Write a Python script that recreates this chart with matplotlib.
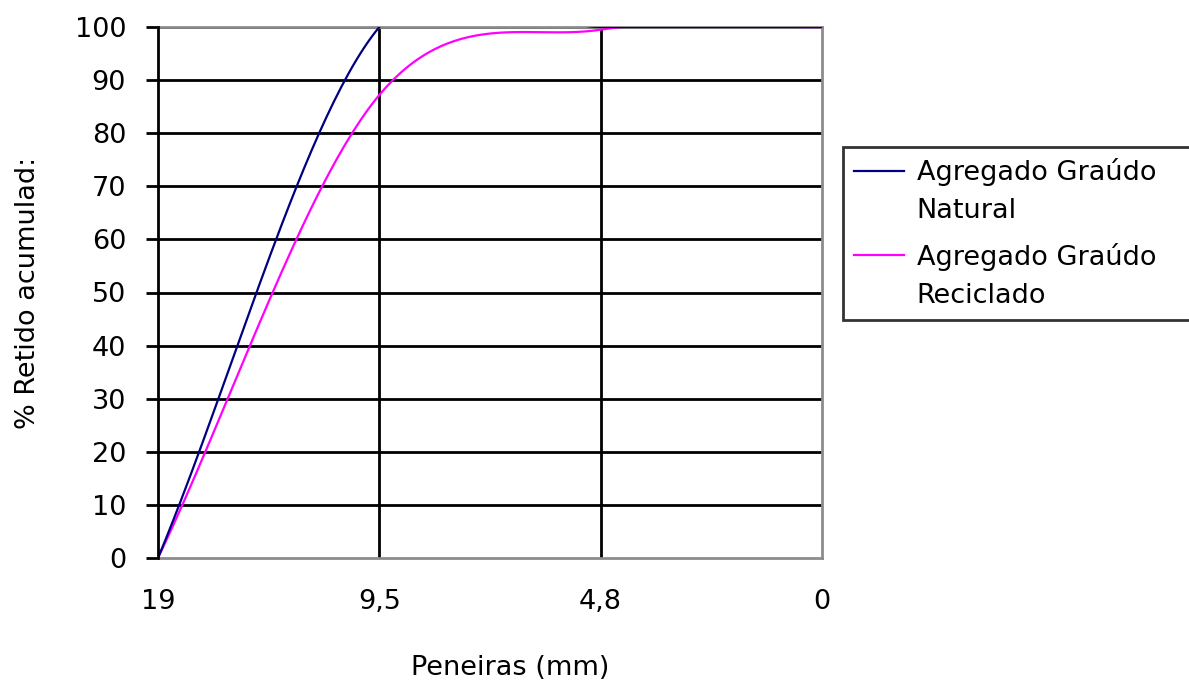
import numpy as np
import matplotlib.pyplot as plt

# Peneiras (mm) e % retido acumulado
peneiras = ["19", "9,5", "4,8", "0"]
natural = [0, 100, 100, 100]
reciclado = [0, 87.2, 99.5, 100]


def smooth_line(y, n=60):
    # curva suavizada (Hermite) passando pelos pontos, como a linha suavizada do Excel
    y = np.asarray(y, dtype=float)
    x = np.arange(len(y), dtype=float)
    m = np.empty_like(y)
    m[1:-1] = (y[2:] - y[:-2]) / 2
    m[0] = y[1] - y[0]
    m[-1] = y[-1] - y[-2]
    xs, ys = [], []
    for i in range(len(y) - 1):
        t = np.linspace(0, 1, n)
        h00 = 2 * t**3 - 3 * t**2 + 1
        h10 = t**3 - 2 * t**2 + t
        h01 = -2 * t**3 + 3 * t**2
        h11 = t**3 - t**2
        xs.append(x[i] + t)
        ys.append(h00 * y[i] + h10 * m[i] + h01 * y[i + 1] + h11 * m[i + 1])
    return np.concatenate(xs), np.concatenate(ys)


plt.rcParams['font.family'] = 'DejaVu Sans'
fs = 19.5

fig = plt.figure(figsize=(11.89, 6.84), dpi=100)
ax = fig.add_axes([158 / 1189, 126 / 684, 664 / 1189, 531 / 684])

xr, yr = smooth_line(reciclado)
xn, yn = smooth_line(natural)
ax.plot(xr, yr, color='#ff00ff', lw=1.6, label='Agregado Graúdo\nReciclado', zorder=3)
ax.plot(xn, yn, color='#000080', lw=1.6, label='Agregado Graúdo\nNatural', zorder=4)

ax.set_xlim(0, len(peneiras) - 1)
ax.set_ylim(0, 100)
ax.set_yticks(range(0, 101, 10))
ax.set_xticks(range(len(peneiras)))
ax.set_xticklabels(peneiras)

# grade: horizontais e verticais nas peneiras intermediárias
for v in range(10, 101, 10):
    ax.axhline(v, color='black', lw=2, zorder=1)
for c in range(1, len(peneiras) - 1):
    ax.axvline(c, color='black', lw=2, zorder=1)

for side in ['top', 'right', 'bottom']:
    ax.spines[side].set_color('#8c8c8c')
    ax.spines[side].set_linewidth(2)
ax.spines['left'].set_color('black')
ax.spines['left'].set_linewidth(2)
ax.spines['left'].set_zorder(5)

ax.tick_params(axis='y', direction='out', length=9, width=2, labelsize=fs, pad=14)
ax.tick_params(axis='x', length=0, labelsize=fs, pad=22)

ax.set_ylabel('% Retido acumulad:', fontsize=fs, va='center')
ax.yaxis.set_label_coords(-0.196, 0.5)
ax.set_xlabel('Peneiras (mm)', fontsize=fs, va='center')
ax.xaxis.set_label_coords(0.53, -0.207)

handles, labels = ax.get_legend_handles_labels()
leg = fig.legend(handles[::-1], labels[::-1], loc='upper left',
                 bbox_to_anchor=(843 / 1189, 1 - 147 / 684, 0.31, 0),
                 mode='expand', fontsize=fs, frameon=True, fancybox=False,
                 handlelength=1.85, handletextpad=0.45, labelspacing=0.7,
                 borderpad=0.42, borderaxespad=0)
leg.get_frame().set_edgecolor('black')
leg.get_frame().set_linewidth(2)
for t in leg.get_texts():
    t.set_linespacing(1.58)
# traço da legenda alinhado com a primeira linha do texto
for ln in leg.get_lines():
    ln.set_ydata(np.asarray(ln.get_ydata()) + 15)

fig.savefig('out.png', dpi=100)
